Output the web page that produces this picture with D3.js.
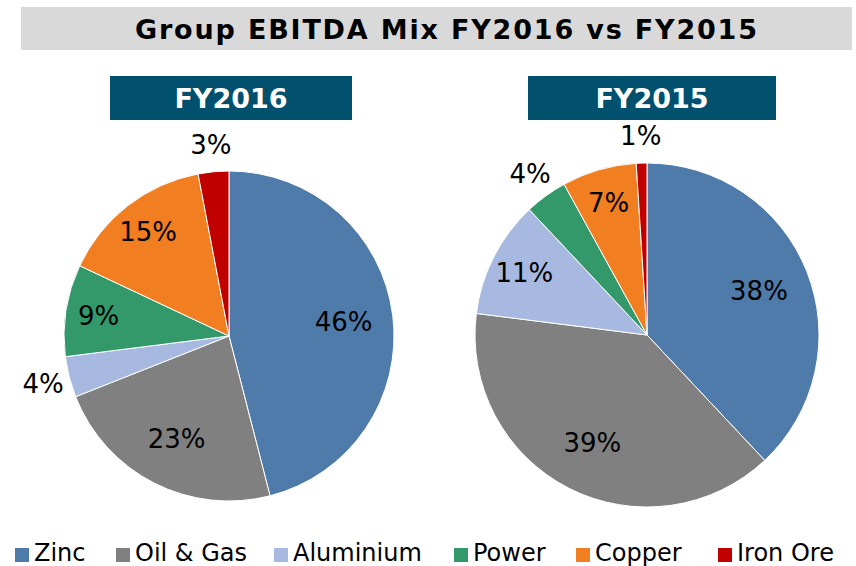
<!DOCTYPE html>
<html>
<head>
<meta charset="utf-8">
<script src="https://cdn.jsdelivr.net/npm/d3@7/dist/d3.min.js"></script>
<style>
  body { margin: 0; background: #fff; }
  svg { display: block; font-family: "DejaVu Sans", Verdana, sans-serif; }
</style>
</head>
<body>
<svg id="chart" width="856" height="566"></svg>
<script>
// data
const categories = ["Zinc", "Oil & Gas", "Aluminium", "Power", "Copper", "Iron Ore"];
const fy2016 = [46, 23, 4, 9, 15, 3];
const fy2015 = [38, 39, 11, 4, 7, 1];
const colors = ["#4f7bab", "#808080", "#a7b9e0", "#33996a", "#f27e22", "#c00000"];

const svg = d3.select("#chart");

// title bar
svg.append("rect")
  .attr("x", 21).attr("y", 7)
  .attr("width", 831).attr("height", 43)
  .attr("fill", "#d9d9d9");
svg.append("text")
  .attr("x", 446).attr("y", 39)
  .attr("text-anchor", "middle")
  .attr("font-size", 27)
  .attr("font-weight", "bold")
  .attr("textLength", 622)
  .attr("lengthAdjust", "spacing")
  .text("Group EBITDA Mix FY2016 vs FY2015");

const pie = d3.pie().sort(null).value(d => d.value);

function drawPie(values, header, box, cx, cy, r) {
  // header box
  svg.append("rect")
    .attr("x", box[0]).attr("y", 76)
    .attr("width", box[1] - box[0]).attr("height", 44)
    .attr("fill", "#00506e");
  svg.append("text")
    .attr("x", (box[0] + box[1]) / 2).attr("y", 108)
    .attr("text-anchor", "middle")
    .attr("font-size", 27)
    .attr("font-weight", "bold")
    .attr("fill", "#fff")
    .text(header);

  const data = pie(categories.map((c, i) => ({ name: c, value: values[i], color: colors[i] })));
  const arc = d3.arc().innerRadius(0).outerRadius(r);
  const g = svg.append("g").attr("transform", "translate(" + cx + "," + cy + ")");

  g.selectAll("path")
    .data(data)
    .enter()
    .append("path")
    .attr("d", arc)
    .attr("fill", d => d.data.color)
    .attr("stroke", "#fff")
    .attr("stroke-width", 1);

  g.selectAll("text")
    .data(data)
    .enter()
    .append("text")
    .attr("transform", d => {
      const v = d.data.value;
      const lr = v < 5 ? r + 27 : (v < 20 ? r * 0.8 : r * 0.7);
      const a = (d.startAngle + d.endAngle) / 2;
      return "translate(" + (lr * Math.sin(a)) + "," + (-lr * Math.cos(a)) + ")";
    })
    .attr("text-anchor", "middle")
    .attr("dy", "0.36em")
    .attr("font-size", 26)
    .attr("fill", "#000")
    .text(d => d.data.value + "%");
}

drawPie(fy2016, "FY2016", [110, 352], 229, 336, 165);
drawPie(fy2015, "FY2015", [528, 776], 647, 335, 172);

// legend
const legendX = [15, 116, 274, 454, 576, 718];
const legend = svg.append("g");
categories.forEach((c, i) => {
  legend.append("rect")
    .attr("x", legendX[i]).attr("y", 548)
    .attr("width", 14).attr("height", 14)
    .attr("fill", colors[i]);
  legend.append("text")
    .attr("x", legendX[i] + 19).attr("y", 561)
    .attr("font-size", 24)
    .attr("fill", "#000")
    .text(c);
});
</script>
</body>
</html>
